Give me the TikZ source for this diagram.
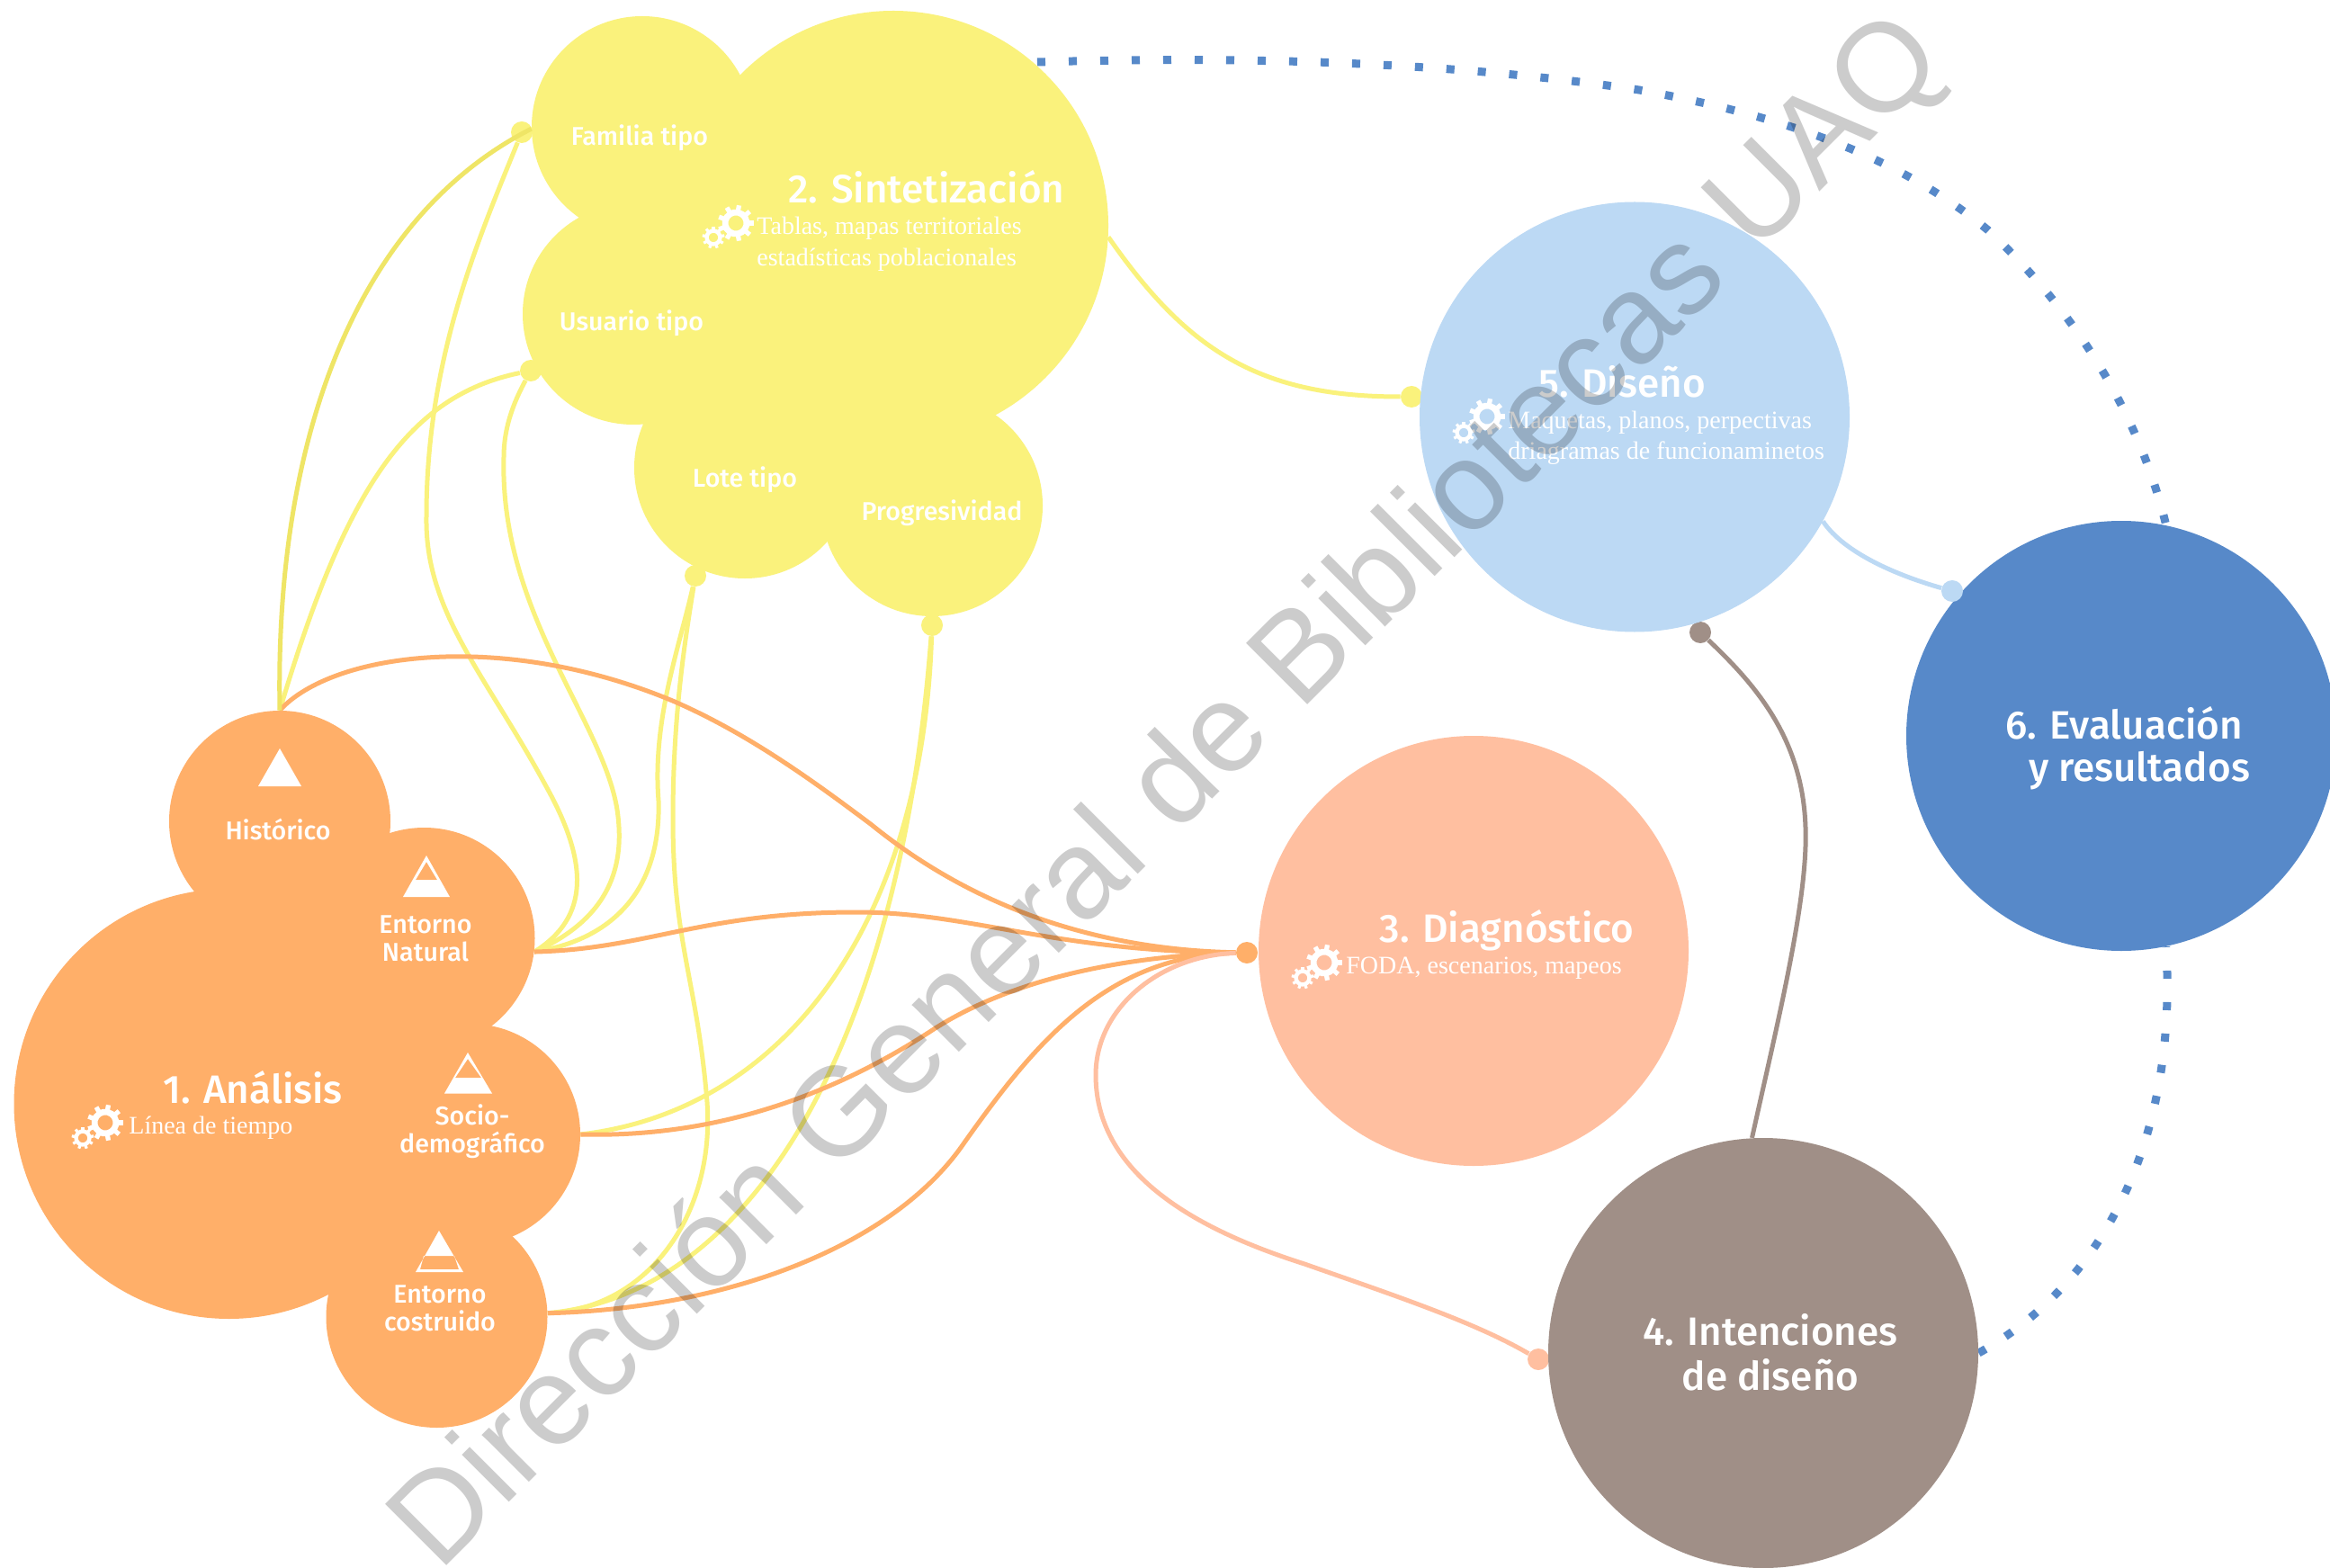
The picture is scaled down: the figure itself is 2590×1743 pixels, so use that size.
\documentclass[tikz,border=0pt]{standalone}
\usepackage{fontspec}
\setmainfont{Liberation Serif}
\newfontfamily\hd{Fira Sans Medium}
\newfontfamily\wm{Liberation Sans}
\definecolor{cOr}{HTML}{FFAF69}
\definecolor{cYe}{HTML}{FAF27C}
\definecolor{cYd}{HTML}{EFE566}
\definecolor{cBl}{HTML}{BCD9F4}
\definecolor{cPe}{HTML}{FFBFA0}
\definecolor{cBr}{HTML}{A08F87}
\definecolor{cDb}{HTML}{5789C9}
\pgfdeclarelayer{bg}
\pgfsetlayers{bg,main}
\newcommand{\hdsize}[2]{\fontsize{#1}{#2}\selectfont}
\tikzset{
  big/.style={circle,fill=#1,draw=none,minimum size=239pt,inner sep=0pt},
  small/.style={circle,fill=#1,draw=none,minimum size=123pt,inner sep=0pt},
  enddot/.style={circle,fill=#1,draw=none,minimum size=12pt,inner sep=0pt},
  ttl/.style={text=white,inner sep=0pt,font=\hd\hdsize{22}{22}},
  lbl/.style={text=white,inner sep=0pt,align=center,font=\hd\hdsize{14.3}{15.6}},
  desc/.style={text=white,inner sep=0pt,align=left,font=\hdsize{14}{14}},
  conn/.style={line width=2.5pt,#1},
  dots/.style={cDb,line width=4.5pt,dash pattern=on 4.5pt off 13pt},
  gearicon/.pic={
    \foreach \a in {0,40,...,320}
      \fill[white,rotate=\a] (-2.6,10) rectangle (2.6,20);
    \draw[white,line width=#1] (0,0) circle (12);
  }
}
\newcommand{\gears}[4]{%
  \pic[rotate=10] at (#1,#2) {gearicon=3.4pt};
  \pic[rotate=20,scale=.62] at (#3,#4) {gearicon=2.2pt};
}
\begin{document}
\begin{tikzpicture}[x=0.5pt,y=-0.5pt]
\useasboundingbox (0,0) rectangle (2590,1743);

% end dots that lie under the circles
\node[enddot=cYe] (dFam) at (580,147) {};
\node[enddot=cYe] (dUsu) at (590,412) {};
\node[enddot=cYe] (dLot) at (773,640) {};
\node[enddot=cYe] (dPro) at (1036,695) {};
\node[enddot=cYe] (dDis) at (1569,441) {};
\node[enddot=cOr] (dDia) at (1386,1059) {};
\node[enddot=cPe] (dInt) at (1710,1511) {};
\node[enddot=cBr] (dBro) at (1890,703) {};

% circles
\node[big=cOr] (analisis) at (254.5,1227) {};
\node[small=cOr] (historico) at (311,913) {};
\node[small=cOr] (natural) at (471.5,1043) {};
\node[small=cOr] (socio) at (522,1261) {};
\node[small=cOr] (costruido) at (485.5,1464) {};
\node[big=cYe] (sintesis) at (993,251) {};
\node[small=cYe] (familia) at (714,141) {};
\node[small=cYe] (usuario) at (704,349) {};
\node[small=cYe] (lote) at (828,520) {};
\node[small=cYe] (progres) at (1036,562) {};
\node[big=cPe] (diagnostico) at (1638,1057) {};
\node[big=cBr] (intenciones) at (1960,1504) {};
\node[big=cBl] (diseno) at (1817,463.5) {};
\node[big=cDb] (evaluacion) at (2358,818) {};
\node[enddot=cBl] (dEva) at (2170,657) {};

% triangles
\fill[white] (311,832) -- (335,874) -- (287,874) -- cycle;
\fill[white,even odd rule] (474,951) -- (500,997) -- (448,997) -- cycle
  (474,958) -- (486,978) -- (462,978) -- cycle;
\fill[white,even odd rule] (520,1170) -- (547,1215.5) -- (494,1215.5) -- cycle
  (520,1177) -- (535,1198) -- (506,1198) -- cycle;
\fill[white,even odd rule] (488,1368) -- (515,1414) -- (462,1414) -- cycle
  (471,1396) -- (505,1396) -- (510,1411) -- (467,1411) -- cycle;

% gears
\gears{117}{1248}{92}{1265}
\gears{818}{248}{793}{264}
\gears{1472}{1070}{1448}{1087}
\gears{1653}{463}{1627}{481}

% texts
\node[ttl] (t1) at (281,1209) {1. Análisis};
\node[desc,anchor=west] (d1) at (143,1254) {Línea de tiempo};
\node[lbl] (lHis) at (309,922) {Histórico};
\node[lbl] (lNat) at (473,1043) {Entorno\\Natural};
\node[lbl] (lSoc) at (525,1258) {Socio-\\demográfico};
\node[lbl] (lCos) at (489,1454) {Entorno\\costruido};
\node[lbl] (lFam) at (711,153) {Familia tipo};
\node[lbl] (lUsu) at (702,359) {Usuario tipo};
\node[lbl] (lLot) at (828,533) {Lote tipo};
\node[lbl] (lPro) at (1047,570) {Progresividad};
\node[ttl] (t2) at (1030,208) {2. Sintetización};
\node[desc,anchor=west] (d2a) at (841,254) {Tablas, mapas territoriales};
\node[desc,anchor=west] (d2b) at (841,289) {estadísticas poblacionales};
\node[ttl] (t3) at (1675,1034) {3. Diagnóstico};
\node[desc,anchor=west] (d3) at (1496,1076) {FODA, escenarios, mapeos};
\node[ttl] (t5) at (1803,424) {5. Diseño};
\node[desc,anchor=west] (d5a) at (1676,470) {Maquetas, planos, perpectivas};
\node[desc,anchor=west] (d5b) at (1676,504) {driagramas de funcionaminetos};
\node[ttl] (t4a) at (1968,1478) {4. Intenciones};
\node[ttl] (t4b) at (1968,1528) {de diseño};
\node[ttl] (t6a) at (2361,804) {6. Evaluación};
\node[ttl] (t6b) at (2378,857) {y resultados};

% connectors
\begin{pgfonlayer}{bg}
\fill[white] (-1,-1) rectangle (2591,1744);
\draw[conn=cYe] (historico.north) .. controls (385,540) and (455,440) .. (dUsu);
\draw[conn=cYe] (natural.-7) .. controls (655,1020) and (655,960) .. (607,874)
   .. controls (540,750) and (472,680) .. (474,574)
   .. controls (474,400) and (530,270) .. (dFam);
\draw[conn=cYe] (natural.-7) .. controls (680,1020) and (695,960) .. (686,900)
   .. controls (670,800) and (555,680) .. (560,508)
   .. controls (560,470) and (575,440) .. (dUsu);
\draw[conn=cYe] (natural.-7) .. controls (680,1045) and (735,990) .. (732,890)
   .. controls (725,800) and (755,720) .. (dLot);
\draw[conn=cYe] (costruido.2) .. controls (720,1455) and (795,1350) .. (786,1225)
   .. controls (775,1090) and (748,1050) .. (748,910)
   .. controls (748,800) and (760,720) .. (dLot);
\draw[conn=cYe] (socio.east) .. controls (870,1235) and (1025,1030) .. (dPro);
\draw[conn=cYe] (costruido.2) .. controls (830,1440) and (1000,1170) .. (dPro);
\draw[conn=cOr] (historico.north) .. controls (370,725) and (560,700) .. (750,780)
   .. controls (830,815) and (900,865) .. (969,917)
   .. controls (1090,1015) and (1230,1056) .. (dDia);
\draw[conn=cOr] (natural.-7) .. controls (720,1055) and (780,1014) .. (952,1014)
   .. controls (1080,1014) and (1170,1058) .. (dDia);
\draw[conn=cOr] (socio.east) .. controls (800,1265) and (930,1215) .. (1038,1144)
   .. controls (1130,1085) and (1260,1062) .. (dDia);
\draw[conn=cOr] (costruido.2) .. controls (800,1455) and (990,1390) .. (1072,1270)
   .. controls (1150,1160) and (1230,1062) .. (dDia);
\draw[conn=cPe] (dDia) .. controls (1290,1062) and (1218,1120) .. (1218,1195)
   .. controls (1218,1310) and (1340,1370) .. (1450,1405)
   .. controls (1550,1440) and (1640,1470) .. (dInt);
\draw[conn=cYe] (sintesis.-3) .. controls (1320,390) and (1400,441) .. (dDis);
\draw[conn=cBl] (diseno.-29) .. controls (2050,615) and (2110,640) .. (dEva);
\draw[conn=cBr] (intenciones.93) .. controls (1975,1140) and (2010,1000) .. (2007,920)
   .. controls (2004,820) and (1950,760) .. (dBro);
\coordinate (dotA) at (1153,69);
\draw[dots] (dotA) .. controls (1400,62) and (1620,70) .. (1822,100)
   .. controls (1960,125) and (2100,165) .. (2210,256)
   .. controls (2300,340) and (2375,450) .. (evaluacion.78);
\draw[dots] (intenciones.east) .. controls (2350,1420) and (2420,1250) .. (evaluacion.-78);
\end{pgfonlayer}
\draw[conn=cYd] (historico.north) .. controls (305,480) and (400,240) .. (familia.181);

% watermark
\node[rotate=45,text=black,text opacity=0.2,inner sep=0pt,font=\wm\fontsize{70}{70}\selectfont] (wm) at (1300,882) {Dirección General de Bibliotecas UAQ};
\end{tikzpicture}
\end{document}
